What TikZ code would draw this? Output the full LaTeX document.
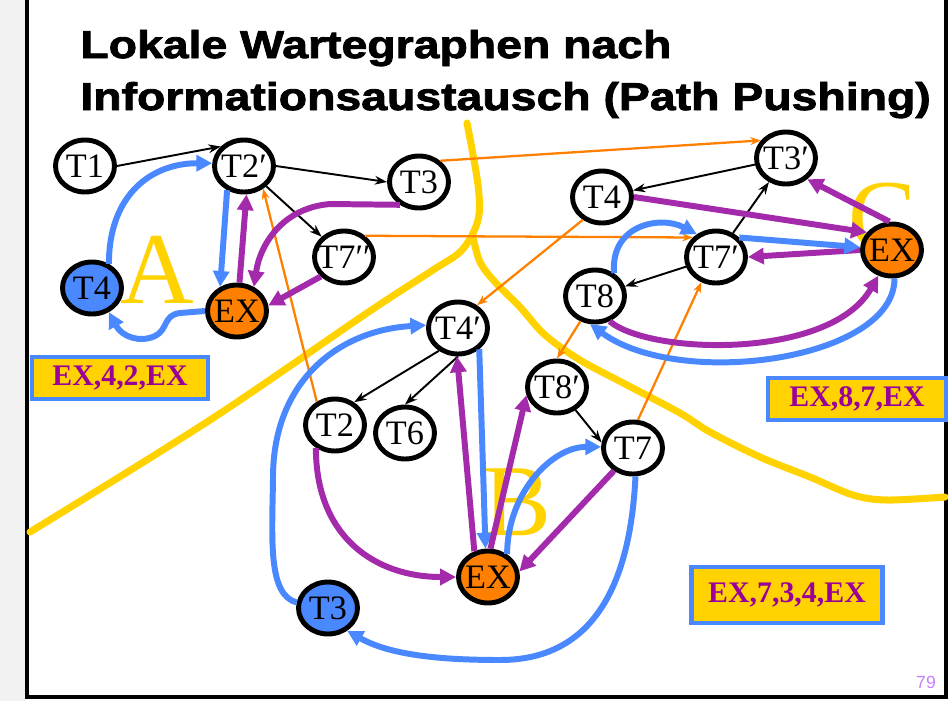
\documentclass[tikz,border=0pt]{standalone}
\usepackage{fontspec}
\setmainfont{Liberation Serif}
\setsansfont{Liberation Sans}
\newfontfamily\titlefont{Liberation Sans}[FakeStretch=1.2, BoldFeatures={FakeBold=2.2}]
\usetikzlibrary{
  arrows.meta, % For arrow tips
  shapes.geometric % For the ellipse nodes
}
\definecolor{wfgblue}{HTML}{4A88FF}
\definecolor{wfgorange}{HTML}{FF8000}
\definecolor{wfgpurple}{HTML}{A42AAC}
\definecolor{wfgyellow}{HTML}{FFD200}
\definecolor{boxpurple}{HTML}{990099}
\definecolor{pagenum}{HTML}{C77DFF}

\begin{document}
\begin{tikzpicture}[
      x=0.02cm, y=-0.02cm, % one unit = one pixel of the slide, y downwards
      >=Stealth, % Default arrow tip
      tnode/.style={ellipse, draw, line width=2.8pt, minimum width=1.18cm,
        minimum height=1.04cm, inner xsep=-10pt, inner ysep=0pt,
        font=\fontsize{19.5}{19.5}\selectfont}, % Transaction
      exnode/.style={tnode, fill=wfgorange}, % External node
      blnode/.style={tnode, fill=wfgblue}, % Blocked transaction
      waitfor/.style={black, line width=1.1pt, -{Stealth[length=7pt,width=5pt]}},
      pushed/.style={wfgorange, line width=1.3pt, -{Stealth[length=6pt,width=4.5pt]}},
      bluepath/.style={wfgblue, line width=3.4pt, -{Triangle[length=9pt,width=9pt]}},
      purppath/.style={wfgpurple, line width=3.4pt, -{Triangle[length=9pt,width=9pt]}},
      cutline/.style={wfgyellow, line width=4pt, line cap=round, line join=round},
      sitename/.style={wfgyellow, inner sep=0pt, font=\fontsize{58}{58}\selectfont},
      pathbox/.style={draw=wfgblue, line width=2.8pt, fill=wfgyellow, text=boxpurple,
        inner sep=0pt, font=\bfseries\fontsize{17}{17}\selectfont},
      titleline/.style={anchor=base west, inner sep=0pt,
        font=\titlefont\bfseries\fontsize{22}{22}\selectfont},
    ]
    \useasboundingbox (0,0) rectangle (948,701);

    % Rahmen der Folie
    \fill[black!5] (0,0) rectangle (25,701);
    \draw[line width=2.8pt] (27,0) -- (27,697) -- (946,697) -- (946,0);

    % Titel
    \node[titleline] (title1) at (80,58) {Lokale Wartegraphen nach};
    \node[titleline] (title2) at (80,110) {Informationsaustausch (Path Pushing)};

    % Grenzen zwischen den Knoten A, B, C
    \draw[cutline] plot[smooth, tension=0.55] coordinates {(30,532) (210,420) (367,313)
      (433,270) (462,250) (478,220) (478,185) (467,123)};
    \draw[cutline] plot[smooth, tension=0.55] coordinates {(473,237) (480,262) (495,282)
      (520,307) (545,335) (580,360) (627,385) (680,413) (710,432) (760,457) (810,477)
      (853,495) (887,500) (945,497)};

    \node[sitename] (siteA) at (157,270) {A};
    \node[sitename] (siteB) at (517,502) {B};
    \node[sitename] (siteC) at (882,217) {C};

    % Knoten A
    \node[tnode] (t1) at (85,166) {T1};
    \node[tnode] (t2a) at (244,166) {T2′};
    \node[tnode] (t3a) at (419,182) {T3};
    \node[tnode] (t7aa) at (344,257) {T7′′};
    \node[blnode] (t4a) at (92,288) {T4};
    \node[exnode] (exa) at (237,311) {EX};

    % Knoten C
    \node[tnode] (t3c) at (786,158) {T3′};
    \node[tnode] (t4c) at (602,197) {T4};
    \node[tnode] (t7c) at (716,257) {T7′};
    \node[tnode] (t8c) at (595,296) {T8};
    \node[exnode] (exc) at (892,250) {EX};

    % Knoten B
    \node[tnode] (t4b) at (458,328) {T4′};
    \node[tnode] (t2b) at (335,425) {T2};
    \node[tnode] (t6b) at (405,433) {T6};
    \node[tnode] (t8b) at (557,387) {T8′};
    \node[tnode] (t7b) at (633,448) {T7};
    \node[exnode] (exb) at (488,577) {EX};
    \node[blnode] (t3b) at (328,608) {T3};

    % lokale Wartebeziehungen
    \draw[waitfor] (t1.east) -- (t2a.140);
    \draw[waitfor] (t2a.east) -- (t3a.west);
    \draw[waitfor] (t2a) -- (t7aa);
    \draw[waitfor] (t3c) -- (t4c);
    \draw[waitfor] (t7c) -- (t3c);
    \draw[waitfor] (t7c) -- (t8c);
    \draw[waitfor] (t4b.-130) -- (t2b.50);
    \draw[waitfor] (t4b.south) -- (t6b.north);
    \draw[waitfor] (t8b) -- (t7b.170);

    % Wartebeziehungen ueber Knotengrenzen
    \draw[pushed] (t3a.45) -- (t3c.145);
    \draw[pushed] (t7aa.45) -- (t7c.140);
    \draw[pushed] (t4c.-130) -- (t4b.50);
    \draw[pushed] (t8c.-120) -- (t8b.north);
    \draw[pushed] (t7b.80) -- (t7c.-120);
    \draw[pushed] (t2b.128) -- (t2a.-50);

    % Knoten A: Pfade
    \draw[bluepath] (t4a.55) .. controls +(0,-70) and +(-60,0) .. (t2a.175);
    \draw[bluepath] (t2a.-125) -- (exa.125);
    \draw[purppath] (exa.85) -- (t2a.-85);
    \draw[purppath] (t3a.-130) -- (330,204) .. controls (282,208) and (260,245) .. (exa.55);
    \draw[purppath] (t7aa.-140) -- (exa.10);
    \draw[bluepath] (exa.west) -- (180,313) .. controls (163,315) and (168,330) .. (155,336)
      .. controls (140,343) and (122,337) .. (t4a.-55);

    % Knoten C: Pfade
    \draw[purppath] (t4c.east) -- (exc.145);
    \draw[purppath] (exc.95) -- (t3c.-45);
    \draw[purppath] (exc.west) -- (t7c.east);
    \draw[bluepath] (t7c.40) -- (exc.175);
    \draw[bluepath] (t8c.50) .. controls (610,225) and (660,215) .. (t7c.130);
    \draw[purppath] (t8c.-60) .. controls (650,355) and (830,360) .. (exc.-118);
    \draw[bluepath] (exc.-85) .. controls (895,360) and (680,390) .. (t8c.-100);

    % Knoten B: Pfade
    \draw[bluepath] (t4b.-45) -- (exb.95);
    \draw[purppath] (exb.118) -- (t4b.-92);
    \draw[purppath] (exb.85) -- (t8b.-165);
    \draw[purppath] (t7b.-130) -- (exb.10);
    \draw[bluepath] (exb.50) .. controls +(0,-60) and +(-50,0) .. (t7b.178);
    \draw[purppath] (t2b.-130) .. controls +(0,90) and +(-80,0) .. (exb.west);
    \draw[bluepath] (t3b.170) .. controls (268,595) and (272,540) .. (273,480)
      .. controls (272,380) and (340,330) .. (t4b.175);
    \draw[bluepath] (t7b.-85) .. controls (630,590) and (590,660) .. (500,660)
      .. controls (440,660) and (390,655) .. (t3b.-50);

    % gesendete Pfade
    \node[pathbox, minimum width=3.52cm, minimum height=0.84cm] (pathA) at (120,378) {EX,4,2,EX};
    \node[pathbox, minimum width=3.56cm, minimum height=0.84cm] (pathC) at (857,399) {EX,8,7,EX};
    \node[pathbox, minimum width=3.82cm, minimum height=1.12cm] (pathB) at (787,595) {EX,7,3,4,EX};

    \node[pagenum, font=\sffamily\fontsize{10}{10}\selectfont] (num) at (926,682) {79};
  \end{tikzpicture}
\end{document}
